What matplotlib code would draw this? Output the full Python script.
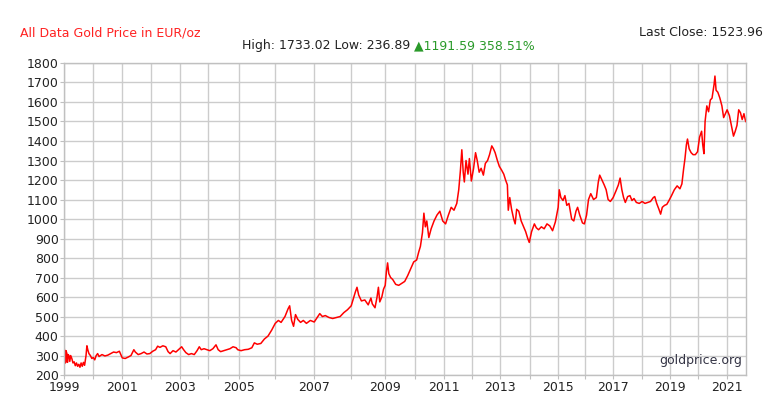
import matplotlib
matplotlib.use("Agg")
import matplotlib.pyplot as plt
import numpy as np

# chart is drawn by sample index, so years are not evenly spaced
years = list(range(1999, 2023))
year_idx = [0, 29, 58, 87, 116, 144, 175, 211, 250, 287, 321, 351, 380,
            408, 436, 466, 494, 521, 549, 578, 606, 634, 663, 692]

dates = [
    1999.00, 1999.02, 1999.04, 1999.06, 1999.09, 1999.11, 1999.13, 1999.16, 1999.19, 1999.22,
    1999.26, 1999.30, 1999.34, 1999.38, 1999.42, 1999.46, 1999.50, 1999.54, 1999.58, 1999.62,
    1999.66, 1999.70, 1999.75, 1999.78, 1999.81, 1999.85, 1999.90, 1999.95,
    2000.00, 2000.05, 2000.10, 2000.15, 2000.20, 2000.30, 2000.40, 2000.50, 2000.60, 2000.70,
    2000.80, 2000.90, 2000.95,
    2001.00, 2001.10, 2001.20, 2001.30, 2001.40, 2001.45, 2001.55, 2001.65, 2001.75, 2001.85, 2001.95,
    2002.05, 2002.15, 2002.22, 2002.30, 2002.40, 2002.50, 2002.58, 2002.65, 2002.75, 2002.85, 2002.95,
    2003.05, 2003.12, 2003.20, 2003.30, 2003.40, 2003.50, 2003.60, 2003.68, 2003.75, 2003.85, 2003.95,
    2004.05, 2004.15, 2004.25, 2004.32, 2004.40, 2004.50, 2004.60, 2004.70, 2004.80, 2004.90, 2004.95,
    2005.05, 2005.15, 2005.25, 2005.35, 2005.42, 2005.50, 2005.60, 2005.70, 2005.80, 2005.90,
    2006.00, 2006.08, 2006.15, 2006.25, 2006.33, 2006.37, 2006.42, 2006.47, 2006.52, 2006.58,
    2006.65, 2006.72, 2006.80, 2006.90,
    2007.00, 2007.08, 2007.15, 2007.22, 2007.30, 2007.40, 2007.50, 2007.60, 2007.70, 2007.80, 2007.90,
    2008.00, 2008.06, 2008.12, 2008.17, 2008.22, 2008.30, 2008.40, 2008.50, 2008.58, 2008.62,
    2008.70, 2008.76, 2008.80, 2008.84, 2008.90, 2008.95,
    2009.00, 2009.04, 2009.08, 2009.12, 2009.18, 2009.25, 2009.35, 2009.45, 2009.55, 2009.65,
    2009.75, 2009.85, 2009.95,
    2010.05, 2010.12, 2010.18, 2010.25, 2010.30, 2010.35, 2010.40, 2010.47, 2010.55, 2010.65,
    2010.75, 2010.85, 2010.95,
    2011.05, 2011.15, 2011.25, 2011.35, 2011.45, 2011.52, 2011.58, 2011.63, 2011.68, 2011.72,
    2011.78, 2011.85, 2011.90, 2011.97,
    2012.05, 2012.12, 2012.18, 2012.25, 2012.32, 2012.40, 2012.47, 2012.55, 2012.62, 2012.70,
    2012.76, 2012.82, 2012.90, 2012.97,
    2013.05, 2013.12, 2013.18, 2013.24, 2013.27, 2013.32, 2013.38, 2013.45, 2013.50, 2013.55,
    2013.62, 2013.70, 2013.78, 2013.85, 2013.92, 2013.97,
    2014.05, 2014.15, 2014.22, 2014.30, 2014.40, 2014.50, 2014.60, 2014.70, 2014.80, 2014.90,
    2015.00, 2015.04, 2015.10, 2015.18, 2015.25, 2015.32, 2015.40, 2015.50, 2015.58, 2015.66,
    2015.72, 2015.80, 2015.90, 2015.97,
    2016.05, 2016.12, 2016.20, 2016.30, 2016.40, 2016.47, 2016.52, 2016.60, 2016.68, 2016.75,
    2016.82, 2016.90,
    2017.00, 2017.10, 2017.18, 2017.24, 2017.30, 2017.36, 2017.42, 2017.50, 2017.58, 2017.65,
    2017.72, 2017.80, 2017.90,
    2018.00, 2018.10, 2018.20, 2018.30, 2018.40, 2018.45, 2018.52, 2018.60, 2018.66, 2018.72,
    2018.80, 2018.88, 2018.96,
    2019.05, 2019.15, 2019.25, 2019.35, 2019.42, 2019.48, 2019.53, 2019.58, 2019.62, 2019.68,
    2019.75, 2019.82, 2019.90, 2019.98,
    2020.05, 2020.12, 2020.16, 2020.20, 2020.24, 2020.30, 2020.36, 2020.42, 2020.48, 2020.55,
    2020.58, 2020.62, 2020.68, 2020.75, 2020.82, 2020.88, 2020.94,
    2021.00, 2021.08, 2021.16, 2021.22, 2021.28, 2021.34, 2021.40, 2021.46, 2021.52, 2021.58, 2021.64,
]

prices = [
    335, 320, 262, 325, 310, 265, 305, 300, 270, 300,
    285, 262, 268, 248, 262, 245, 255, 240, 262, 245,
    265, 250, 300, 350, 330, 310, 300, 285,
    290, 278, 300, 310, 295, 305, 298, 302, 310, 318,
    315, 322, 305,
    288, 285, 292, 300, 330, 318, 305, 310, 318, 308, 310,
    322, 330, 348, 342, 350, 345, 320, 310, 325, 318, 332,
    345, 330, 315, 305, 310, 305, 325, 345, 330, 335, 330,
    325, 335, 355, 330, 320, 325, 330, 335, 345, 340, 330,
    325, 330, 332, 340, 365, 358, 362, 385, 400, 430,
    465, 480, 470, 500, 540, 555, 480, 450, 510, 485,
    470, 480, 465, 480,
    472, 495, 515, 500, 505, 495, 490, 495, 500, 520, 535,
    555, 590, 625, 650, 610, 580, 585, 560, 595, 565,
    545, 600, 650, 575, 600, 640,
    660, 730, 775, 720, 700, 690, 665, 660, 670, 680,
    710, 745, 780,
    790, 830, 860, 930, 1030, 960, 990, 905, 950, 990,
    1020, 1040, 990,
    975, 1020, 1060, 1045, 1080, 1150, 1250, 1355, 1240, 1190,
    1300, 1230, 1310, 1195,
    1260, 1340, 1300, 1240, 1260, 1225, 1285, 1300, 1330, 1375,
    1360, 1340, 1300, 1270,
    1250, 1230, 1200, 1175, 1045, 1110, 1050, 1000, 975, 1050,
    1040, 990, 960, 935, 900, 880,
    935, 975, 955, 945, 960, 950, 975, 965, 940, 985,
    1060, 1150, 1110, 1095, 1120, 1070, 1080, 1000, 990, 1040,
    1060, 1020, 980, 975,
    1020, 1100, 1130, 1100, 1110, 1190, 1225, 1200, 1175, 1150,
    1100, 1090,
    1110, 1145, 1175, 1210, 1150, 1110, 1085, 1115, 1120, 1095,
    1105, 1085, 1080,
    1090, 1080, 1085, 1090, 1110, 1115, 1080, 1050, 1025, 1060,
    1070, 1075, 1095,
    1120, 1150, 1170, 1155, 1180, 1255, 1310, 1380, 1410, 1360,
    1340, 1330, 1330, 1345,
    1420, 1450, 1380, 1335, 1500, 1580, 1550, 1610, 1620, 1690,
    1733, 1660, 1650, 1620, 1580, 1520, 1540,
    1560, 1530, 1470, 1425, 1450, 1480, 1560, 1545, 1510, 1540, 1500,
]

yticks = list(range(200, 1900, 100))
xlabels = [str(y) for y in range(1999, 2022, 2)]

title = "All Data Gold Price in EUR/oz"
stats_text = "High: 1733.02 Low: 236.89 "
change_text = "\u25b21191.59 358.51%"
last_close = "Last Close: 1523.96"

fig = plt.figure(figsize=(7.83, 4.09), dpi=100)
ax = fig.add_axes([0.0821, 0.083, 0.8706, 0.763])

x = np.interp(dates, years, year_idx)
ax.plot(x, prices, color="#ff0000", lw=1.1)

ax.set_xlim(0, np.interp(2021.65, years, year_idx))
ax.set_ylim(200, 1800)
ax.set_yticks(yticks)
ax.set_xticks(year_idx[:23])
ax.set_xticklabels([str(y) if (y - 1999) % 2 == 0 else "" for y in years[:23]])
ax.grid(True, color="#cccccc", lw=1)
ax.set_axisbelow(True)
ax.tick_params(length=3, color="#c0c0c0", labelsize=9, labelcolor="#222222", pad=1)
for s in ax.spines.values():
    s.set_color("#c0c0c0")
    s.set_linewidth(1)

fig.text(20 / 783, 1 - 33 / 409, title, color="#ff2222", fontsize=9, va="center")
fig.text(763 / 783, 1 - 33 / 409, last_close, color="#222222", fontsize=9, va="center", ha="right")
t1 = fig.text(242 / 783, 1 - 46 / 409, stats_text, color="#222222", fontsize=9, va="center")
fig.canvas.draw()
bb = t1.get_window_extent()
fig.text(bb.x1 / 783, 1 - 46 / 409, change_text, color="#2a9a2a", fontsize=9, va="center")
ax.text(0.994, 0.025, "goldprice.org", transform=ax.transAxes, ha="right", va="bottom",
        fontsize=9, color="#333344")

fig.savefig("out.png", dpi=100)
